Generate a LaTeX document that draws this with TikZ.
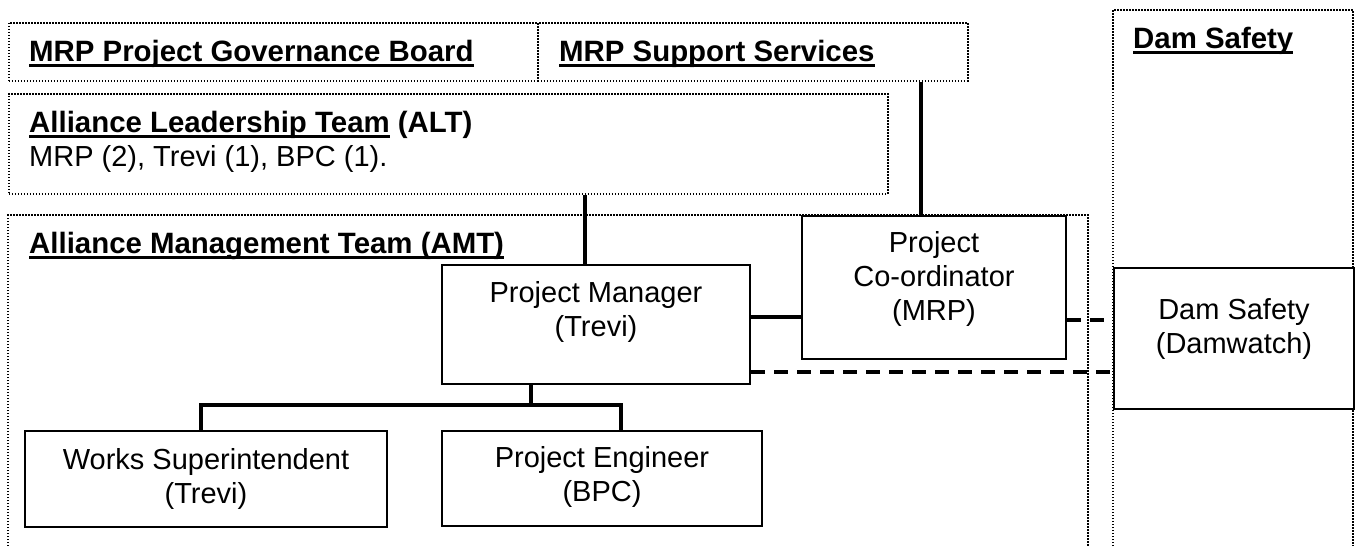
\documentclass[tikz,border=0pt]{standalone}
\usepackage{fontspec}
\setmainfont{Liberation Sans}
\usetikzlibrary{positioning}
\newsavebox\headbox
\newcommand{\headul}[1]{\sbox\headbox{#1}\rlap{\rule[-5.5pt]{\wd\headbox}{3pt}}\usebox\headbox}
\tikzset{
    region/.style={
        draw=black,
        line width=1.5pt,
        dash pattern=on 1.5pt off 1.5pt,
        rectangle,
        inner sep=0pt,
        anchor=north west
    },
    unit/.style={
        rectangle,
        draw=black,
        line width=2pt,
        fill=white,
        inner sep=0pt,
        anchor=north west
    },
    unittext/.style={
        align=center,
        inner sep=0pt,
        font=\fontsize{29}{34}\selectfont
    },
    heading/.style={
        anchor=base west,
        inner sep=0pt,
        font=\fontsize{29.4}{34}\selectfont\bfseries
    },
    members/.style={
        anchor=base west,
        inner sep=0pt,
        font=\fontsize{29}{34}\selectfont
    },
    link/.style={
        draw=black,
        line width=4pt
    },
    dashlink/.style={
        draw=black,
        line width=4pt,
        dash pattern=on 14pt off 9pt
    }
}

\begin{document}
\begin{tikzpicture}[x=1pt, y=-1pt]
\useasboundingbox (0,0) rectangle (1356,546);

% Governance regions
\node[region, minimum width=529pt, minimum height=58pt] (gov) at (8,22) {};
\node[region, minimum width=430pt, minimum height=58pt] (sup) at (537,22) {};
\node[region, minimum width=879pt, minimum height=100pt] (alt) at (8,93) {};
\draw[region] (8,546) |- (1088,215) -- (1088,546);
\draw[region] (1113,546) |- (1353,10) -- (1353,546);

% Region headings
\node[heading] (govtitle) at (29,61) {\headul{MRP Project Governance Board}};
\node[heading] (suptitle) at (559,61) {\headul{MRP Support Services}};
\node[heading] (alttitle) at (29,132) {\headul{Alliance Leadership Team} (ALT)};
\node[members] (altmembers) at (29,166) {MRP (2), Trevi (1), BPC (1).};
\node[heading] (amttitle) at (29,253) {\headul{Alliance Management Team (AMT)}};
\node[heading] (damtitle) at (1133,48) {\headul{Dam Safety}};

% Positions
\node[unit, minimum width=308pt, minimum height=119pt] (pm) at (441,264) {};
\node[unit, minimum width=264pt, minimum height=143pt] (coord) at (801,215) {};
\node[unit, minimum width=240pt, minimum height=141pt] (dw) at (1113,267) {};
\node[unit, minimum width=362pt, minimum height=96pt] (ws) at (24,430) {};
\node[unit, minimum width=320pt, minimum height=95pt] (pe) at (441,430) {};

\node[unittext, yshift=13pt] (pmtext) at (pm.center) {Project Manager\\(Trevi)};
\node[unittext, yshift=9pt] (coordtext) at (coord.center) {Project\\Co-ordinator\\(MRP)};
\node[unittext, yshift=9pt] (dwtext) at (dw.center) {Dam Safety\\(Damwatch)};
\node[unittext] (wstext) at (ws.center) {Works Superintendent\\(Trevi)};
\node[unittext, yshift=2pt] (petext) at (pe.center) {Project Engineer\\(BPC)};

% Reporting lines
\coordinate (bar) at (531,405);
\draw[link] (alt.south -| 585,0) -- (pm.north -| 585,0);
\draw[link] (sup.south -| 921,0) -- (coord.north -| 921,0);
\draw[link] (pm.east |- 0,317) -- (coord.west |- 0,317);
\draw[link] (pm.south -| bar) -- (bar);
\draw[link] (ws.north -| 201,0) |- (bar) -| (pe.north -| 621,0);

% Dam safety liaison
\draw[dashlink] (coord.east |- 0,320) -- (dw.west |- 0,320);
\draw[dashlink] (pm.east |- 0,372) -- (dw.west |- 0,372);

\end{tikzpicture}
\end{document}
